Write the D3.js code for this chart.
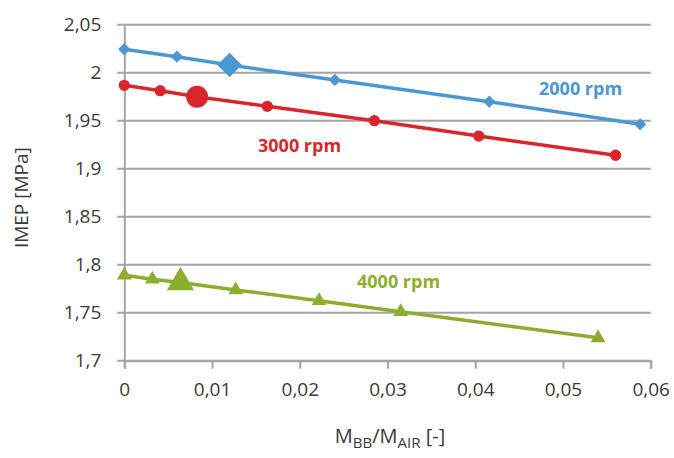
<!DOCTYPE html>
<html>
<head>
<meta charset="utf-8">
<script src="https://cdn.jsdelivr.net/npm/d3@7"></script>
<style>
  html, body { margin: 0; padding: 0; background: #ffffff; }
  svg { display: block; font-family: "Open Sans", "Noto Sans", sans-serif; }
</style>
</head>
<body>
<svg id="chart" width="674" height="458"></svg>
<script>
// Blow-by to air mass ratio and IMEP for each engine speed
const x2000 = [0, 0.006, 0.012, 0.024, 0.0416, 0.0588];
const y2000 = [2.0245, 2.0167, 2.008, 1.9924, 1.9698, 1.9462];
const big2000 = 2; // index of the enlarged marker

const x3000 = [0, 0.0041, 0.0083, 0.0163, 0.0285, 0.0404, 0.056];
const y3000 = [1.9869, 1.9813, 1.975, 1.965, 1.950, 1.934, 1.914];
const big3000 = 2;

const x4000 = [0, 0.0032, 0.0064, 0.0127, 0.0222, 0.0315, 0.054];
const y4000 = [1.789, 1.7848, 1.7815, 1.7737, 1.7625, 1.751, 1.7238];
const big4000 = 2;

const xTicks = [0, 0.01, 0.02, 0.03, 0.04, 0.05, 0.06];
const yTicks = [1.7, 1.75, 1.8, 1.85, 1.9, 1.95, 2, 2.05];
const seriesNames = ["2000 rpm", "3000 rpm", "4000 rpm"];

const fmt = v => String(+v.toFixed(3)).replace(".", ",");

const svg = d3.select("#chart");
const W = 674, H = 458;
const m = { left: 124.3, right: W - 650.7, top: 24.7, bottom: H - 360.7 };

const x = d3.scaleLinear().domain([0, 0.06]).range([m.left, W - m.right]);
const y = d3.scaleLinear().domain([1.7, 2.05]).range([H - m.bottom, m.top]);

const gridColor = "#a3a5a8";
const textColor = "#3a3a3a";

// horizontal gridlines
svg.append("g")
  .selectAll("line")
  .data(yTicks)
  .join("line")
  .attr("x1", m.left - 7)
  .attr("x2", W - m.right)
  .attr("y1", d => y(d))
  .attr("y2", d => y(d))
  .attr("stroke", gridColor)
  .attr("stroke-width", 2);

// y axis
const yAxis = d3.axisLeft(y).tickValues(yTicks).tickFormat(fmt).tickSize(0).tickPadding(23);
const gy = svg.append("g").attr("transform", `translate(${m.left},0)`).call(yAxis);
gy.select(".domain").attr("stroke", gridColor).attr("stroke-width", 2);
gy.selectAll("text").attr("fill", textColor).style("font-size", "19px")
  .style("font-family", '"Open Sans", sans-serif');

// x axis
const xAxis = d3.axisBottom(x).tickValues(xTicks).tickFormat(fmt).tickSize(8).tickPadding(14);
const gx = svg.append("g").attr("transform", `translate(0,${H - m.bottom})`).call(xAxis);
gx.select(".domain").attr("stroke", gridColor).attr("stroke-width", 2);
gx.selectAll(".tick line").attr("stroke", gridColor).attr("stroke-width", 2);
gx.selectAll("text").attr("fill", textColor).style("font-size", "19px")
  .style("font-family", '"Open Sans", sans-serif');

// axis titles
const xt = svg.append("text")
  .attr("x", 390)
  .attr("y", 443)
  .attr("text-anchor", "middle")
  .attr("fill", textColor)
  .style("font-size", "20px");
xt.append("tspan").text("M");
xt.append("tspan").attr("dy", 5).style("font-size", "15px").text("BB");
xt.append("tspan").attr("dy", -5).text("/M");
xt.append("tspan").attr("dy", 5).style("font-size", "15px").text("AIR");
xt.append("tspan").attr("dy", -5).text(" [-]");

svg.append("text")
  .attr("transform", `translate(28,${(m.top + H - m.bottom) / 2 + 5}) rotate(-90)`)
  .attr("text-anchor", "middle")
  .attr("fill", textColor)
  .style("font-size", "19px")
  .text("IMEP [MPa]");

// diamond drawn as a square turned by 45 degrees
const series = [
  { name: seriesNames[0], xs: x2000, ys: y2000, big: big2000, color: "#4b97d2", shape: d3.symbolSquare, rot: 45, small: 75, large: 300 },
  { name: seriesNames[1], xs: x3000, ys: y3000, big: big3000, color: "#d8262c", shape: d3.symbolCircle, rot: 0, small: 100, large: 380 },
  { name: seriesNames[2], xs: x4000, ys: y4000, big: big4000, color: "#8cae2e", shape: d3.symbolTriangle, rot: 0, small: 95, large: 320 }
];

const line = d3.line().x(d => x(d[0])).y(d => y(d[1]));

series.forEach(s => {
  const pts = s.xs.map((v, i) => [v, s.ys[i]]);
  svg.append("path")
    .attr("d", line(pts))
    .attr("fill", "none")
    .attr("stroke", s.color)
    .attr("stroke-width", 3.5)
    .attr("stroke-linejoin", "round");
  svg.append("g")
    .selectAll("path")
    .data(pts)
    .join("path")
    .attr("transform", d => `translate(${x(d[0])},${y(d[1])}) rotate(${s.rot})`)
    .attr("d", (d, i) => d3.symbol().type(s.shape).size(i === s.big ? s.large : s.small)())
    .attr("fill", s.color);
});

// series labels
const labels = [
  { text: seriesNames[0], x: 539, y: 95, color: "#4b97d2" },
  { text: seriesNames[1], x: 258, y: 152, color: "#d8262c" },
  { text: seriesNames[2], x: 357, y: 288, color: "#8cae2e" }
];
svg.append("g")
  .selectAll("text")
  .data(labels)
  .join("text")
  .attr("x", d => d.x)
  .attr("y", d => d.y)
  .attr("fill", d => d.color)
  .style("font-size", "18px")
  .style("font-weight", "bold")
  .text(d => d.text);
</script>
</body>
</html>
